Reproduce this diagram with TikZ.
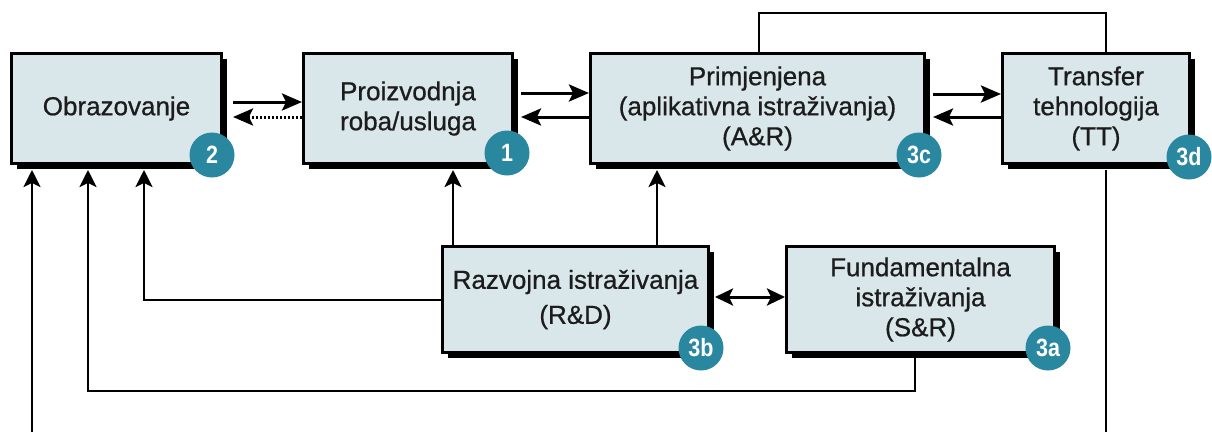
\documentclass[tikz,border=0pt]{standalone}
\usepackage{fontspec}
\setmainfont{Liberation Sans}[FakeBold=0.6]
\newfontfamily\boxfont[FakeBold=0.7]{Liberation Sans}
\newfontfamily\badgefont[FakeStretch=0.86]{Liberation Sans}
\usetikzlibrary{arrows.meta,shadows,calc}
\definecolor{boxfill}{RGB}{217,230,234}
\definecolor{badgeteal}{RGB}{42,135,160}
\definecolor{txt}{RGB}{28,28,28}
\tikzset{
  box/.style={draw=black, line width=3pt, fill=boxfill, align=center, inner sep=0pt,
    text=txt, font=\boxfont\fontsize{26}{30}\selectfont,
    drop shadow={shadow xshift=5pt, shadow yshift=-5pt, fill=black, opacity=1}},
  badge/.style={circle, fill=badgeteal, text=white, inner sep=0pt, minimum size=45pt,
    font=\badgefont\bfseries\fontsize{25}{25}\selectfont},
  arr/.style={line width=3pt, -{Stealth[length=20pt,width=17pt,inset=4pt]}},
  arrdot/.style={line width=3pt, dash pattern=on 2pt off 2pt, -{Stealth[length=20pt,width=17pt,inset=4pt]}},
  arrs/.style={line width=2.6pt, -{Stealth[length=17pt,width=17pt,inset=4pt]}},
  arrd/.style={line width=3pt, {Stealth[length=18pt,width=17pt,inset=4pt]}-{Stealth[length=18pt,width=17pt,inset=4pt]}},
  plainline/.style={line width=2.6pt}
}
\begin{document}
\begin{tikzpicture}[x=1pt,y=-1pt]
\useasboundingbox (0,0) rectangle (1212,432);
% boxes
\node[box, minimum width=210pt, minimum height=110pt] (obr) at (116.5,108.5) {Obrazovanje};
\node[box, minimum width=209pt, minimum height=110pt] (pro) at (408,108.5) {Proizvodnja\\roba/usluga};
\node[box, minimum width=334pt, minimum height=110pt] (pri) at (757.5,108.5) {Primjenjena\\(aplikativna istraživanja)\\(A\&R)};
\node[box, minimum width=187pt, minimum height=110pt] (tt) at (1096,108.5) {Transfer\\tehnologija\\(TT)};
\node[box, minimum width=266pt, minimum height=106pt] (raz) at (575.5,299.5) {Razvojna istraživanja\\[5pt](R\&D)};
\node[box, minimum width=268pt, minimum height=106pt] (fun) at (920.5,299.5) {Fundamentalna\\istraživanja\\(S\&R)};
% badges
\node[badge] (b2) at (212,155) {2};
\node[badge] (b1) at (507,153) {1};
\node[badge] (b3c) at (919,155) {3c};
\node[badge] (b3d) at (1189,157) {3d};
\node[badge] (b3b) at (701,348) {3b};
\node[badge] (b3a) at (1048,348) {3a};
% free ends at the bottom edge
\coordinate (bl) at (32,432);
\coordinate (br) at (1106,432);
% top row connectors
\draw[arr] ([xshift=10pt,yshift=6.5pt]obr.east) -- ([yshift=6.5pt]pro.west);
\draw[arrdot] ([yshift=-8.5pt]pro.west) -- ([xshift=10pt,yshift=-8.5pt]obr.east);
\draw[arr] ([xshift=7pt,yshift=15.5pt]pro.east) -- ([yshift=15.5pt]pri.west);
\draw[arr] ([yshift=-8.5pt]pri.west) -- ([xshift=7pt,yshift=-8.5pt]pro.east);
\draw[arr] ([xshift=7pt,yshift=14.5pt]pri.east) -- ([yshift=14.5pt]tt.west);
\draw[arr] ([yshift=-8.5pt]tt.west) -- ([xshift=7pt,yshift=-8.5pt]pri.east);
\draw[plainline] ([xshift=1.5pt]pri.north) -- ++(0,-39) -| ([xshift=10pt]tt.north);
% lower connectors
\draw[arrs] ([xshift=-122.5pt]raz.north) -- ([xshift=45pt,yshift=-5pt]pro.south);
\draw[arrs] ([xshift=81.5pt]raz.north) -- ([xshift=-100.5pt,yshift=-5pt]pri.south);
\draw[arrs] ([yshift=-0.5pt]raz.west) -| ([xshift=27.5pt,yshift=-5pt]obr.south);
\draw[arrs] ([xshift=-5.5pt]fun.south) -- ++(0,37) -| ([xshift=-28.5pt,yshift=-5pt]obr.south);
\draw[arrs] (bl) -- ([xshift=-84.5pt,yshift=-5pt]obr.south);
\draw[plainline] ([xshift=10pt,yshift=-5pt]tt.south) -- (br);
\draw[arrd] ([xshift=5pt,yshift=2.5pt]raz.east) -- ([yshift=2.5pt]fun.west);
\end{tikzpicture}
\end{document}
